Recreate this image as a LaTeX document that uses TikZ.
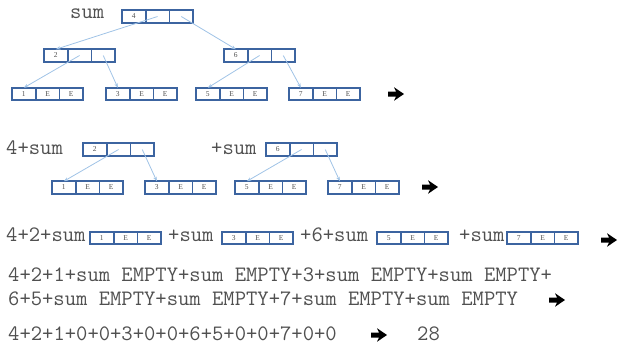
\documentclass[tikz,border=0pt]{standalone}
\usepackage{fontspec}
\setmainfont{Liberation Serif}
\usetikzlibrary{arrows.meta}
\definecolor{boxblue}{RGB}{60,100,160}
\definecolor{linkblue}{RGB}{160,195,230}
\definecolor{txtgray}{RGB}{80,80,80}
\tikzset{
  cell/.style={draw=boxblue, line width=1.7pt, minimum width=23.7pt, minimum height=12.5pt,
    inner sep=0pt, outer sep=0pt, font=\fontsize{7.5}{8}\selectfont, text=txtgray, anchor=west},
  link/.style={draw=linkblue, line width=0.8pt, -{Stealth[length=4.5pt,width=3.5pt]}},
  code/.style={font=\ttfamily\fontsize{22}{23}\selectfont, text=txtgray, inner sep=0pt, anchor=base west},
  bigarrow/.style={fill=black}
}
\newcommand\mkbox[6]{%
  \node[cell] (#1-a) at (#2,#3) {#4};
  \node[cell] (#1-b) at (#1-a.east) {#5};
  \node[cell] (#1-c) at (#1-b.east) {#6};
}
\newcommand\blackarrow[2]{%
  \fill[bigarrow] (#1,#2) ++(0,-2.5) -- ++(8,0) -- ++(-2,-4.3) -- ++(10,6.8) -- ++(-10,6.8) -- ++(2,-4.3) -- ++(-8,0) -- cycle;
}
\begin{document}
\begin{tikzpicture}[x=1pt,y=-1pt]
\useasboundingbox (0,0) rectangle (619,349);
% ---------- row 1: the tree
\node[code] (s1) at (70,18) {sum};
\mkbox{r}{122}{16.5}{4}{}{}
\mkbox{a}{44}{55.5}{2}{}{}
\mkbox{b}{224}{55.5}{6}{}{}
\mkbox{c1}{12}{94}{1}{E}{E}
\mkbox{c3}{106}{94}{3}{E}{E}
\mkbox{c5}{196}{94}{5}{E}{E}
\mkbox{c7}{289}{94}{7}{E}{E}
\draw[link] (r-b.center) -- (a-a.north);
\draw[link] (r-c.center) -- (b-a.north);
\draw[link] (a-b.center) -- (c1-a.north);
\draw[link] (a-c.center) -- (c3-a.north);
\draw[link] (b-b.center) -- (c5-a.north);
\draw[link] (b-c.center) -- (c7-a.north);
\blackarrow{388}{94}
% ---------- row 2
\node[code] (s2a) at (6,154) {4+sum};
\node[code] (s2b) at (211,154) {+sum};
\mkbox{d}{83}{149.5}{2}{}{}
\mkbox{e}{266}{149.5}{6}{}{}
\mkbox{d1}{52}{187.5}{1}{E}{E}
\mkbox{d3}{145}{187.5}{3}{E}{E}
\mkbox{d5}{235}{187.5}{5}{E}{E}
\mkbox{d7}{328}{187.5}{7}{E}{E}
\draw[link] (d-b.center) -- (d1-a.north);
\draw[link] (d-c.center) -- (d3-a.north);
\draw[link] (e-b.center) -- (d5-a.north);
\draw[link] (e-c.center) -- (d7-a.north);
\blackarrow{422}{187}
% ---------- row 3
\node[code] (s3a) at (6,241.5) {4+2+sum};
\mkbox{f1}{90}{238}{1}{E}{E}
\node[code] (s3b) at (168,241.5) {+sum};
\mkbox{f3}{222}{238}{3}{E}{E}
\node[code] (s3c) at (300,241.5) {+6+sum};
\mkbox{f5}{377}{238}{5}{E}{E}
\node[code] (s3d) at (459,241.5) {+sum};
\mkbox{f7}{507}{238}{7}{E}{E}
\blackarrow{601}{240}
% ---------- row 4
\node[code] (s4a) at (8,281) {4+2+1+sum EMPTY+sum EMPTY+3+sum EMPTY+sum EMPTY+};
\node[code] (s4b) at (8,305) {6+5+sum EMPTY+sum EMPTY+7+sum EMPTY+sum EMPTY};
\blackarrow{549}{300}
% ---------- row 5
\node[code] (s5a) at (8,340) {4+2+1+0+0+3+0+0+6+5+0+0+7+0+0};
\blackarrow{371}{335}
\node[code] (s5b) at (417,340) {28};
\end{tikzpicture}
\end{document}
